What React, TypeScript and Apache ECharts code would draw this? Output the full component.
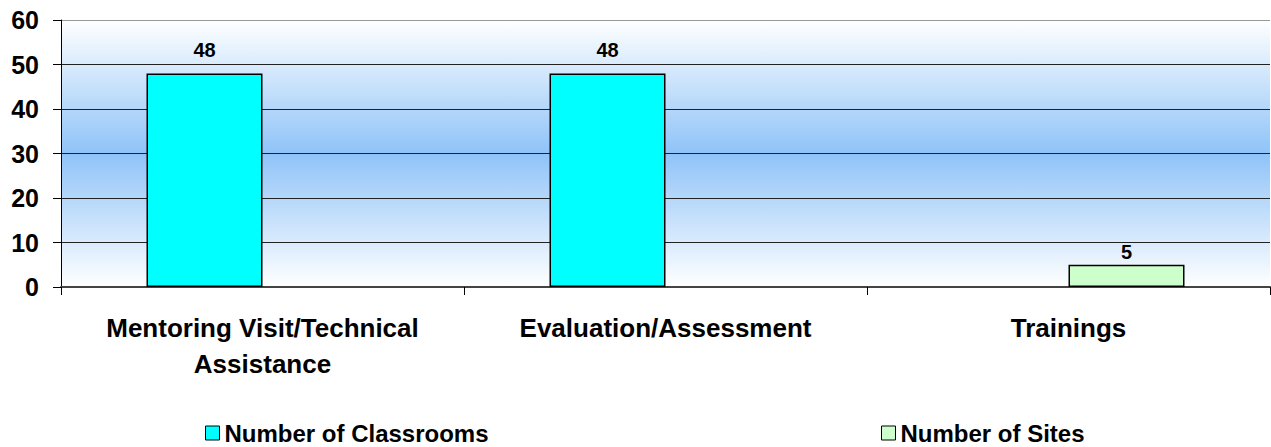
import React, { useEffect, useRef } from "react";
import * as echarts from "echarts";

const categories = ["Mentoring Visit/Technical\nAssistance", "Evaluation/Assessment", "Trainings"];
const classrooms: (number | null)[] = [48, 48, null];
const sites: (number | null)[] = [null, null, 5];
const yTicks = { min: 0, max: 60, interval: 10 };

const FONT = "Liberation Sans, Arial, sans-serif";

export default function App() {
  const ref = useRef<HTMLDivElement>(null);
  useEffect(() => {
    document.body.style.margin = "0";
    const chart = echarts.init(ref.current!, null, { renderer: "svg" });
    const legendText = { fontSize: 24, fontWeight: "bold", color: "#000", fontFamily: FONT, lineHeight: 24 };
    chart.setOption({
      animation: false,
      textStyle: { fontFamily: FONT },
      grid: {
        left: 61,
        right: 1,
        top: 20,
        bottom: 160,
        show: true,
        borderWidth: 0,
        backgroundColor: new echarts.graphic.LinearGradient(0, 0, 0, 1, [
          { offset: 0, color: "#FFFFFF" },
          { offset: 0.5, color: "#8FC3F8" },
          { offset: 1, color: "#FFFFFF" },
        ]),
      },
      legend: [
        {
          data: ["Number of Classrooms"],
          left: 205,
          top: 421,
          padding: 0,
          icon: "rect",
          itemWidth: 14,
          itemHeight: 14,
          itemStyle: { borderColor: "#000", borderWidth: 1 },
          textStyle: legendText,
        },
        {
          data: ["Number of Sites"],
          left: 881,
          top: 421,
          padding: 0,
          icon: "rect",
          itemWidth: 14,
          itemHeight: 14,
          itemStyle: { borderColor: "#000", borderWidth: 1 },
          textStyle: legendText,
        },
      ],
      xAxis: {
        type: "category",
        data: categories,
        axisLine: { lineStyle: { color: "#444", width: 2 } },
        axisTick: { show: true, length: 8, lineStyle: { color: "#000", width: 1 } },
        axisLabel: {
          fontSize: 26,
          fontWeight: "bold",
          color: "#000",
          lineHeight: 36,
          margin: 23,
          fontFamily: FONT,
          interval: 0,
        },
      },
      yAxis: {
        type: "value",
        min: yTicks.min,
        max: yTicks.max,
        interval: yTicks.interval,
        axisLine: { show: true, lineStyle: { color: "#000", width: 1 } },
        axisTick: { show: true, length: 8, lineStyle: { color: "#000" } },
        axisLabel: { fontSize: 25, fontWeight: "bold", color: "#000", margin: 22, fontFamily: FONT },
        splitLine: {
          show: true,
          lineStyle: { color: ["#444", "#222", "#222", "#222", "#222", "#222", "#999"], width: 1 },
        },
      },
      series: [
        {
          name: "Number of Classrooms",
          type: "bar",
          data: classrooms,
          barWidth: 116,
          barGap: "0%",
          itemStyle: { color: "#00FFFF", borderColor: "#000", borderWidth: 1.5 },
          label: {
            show: true,
            position: "top",
            distance: 13,
            fontSize: 20,
            fontWeight: "bold",
            color: "#000",
            fontFamily: FONT,
          },
        },
        {
          name: "Number of Sites",
          type: "bar",
          data: sites,
          barWidth: 116,
          barGap: "0%",
          itemStyle: { color: "#CCFFCC", borderColor: "#000", borderWidth: 1.5 },
          label: {
            show: true,
            position: "top",
            distance: 3,
            fontSize: 20,
            fontWeight: "bold",
            color: "#000",
            fontFamily: FONT,
          },
        },
      ],
    });
    return () => chart.dispose();
  }, []);
  return <div ref={ref} style={{ width: 1271, height: 447 }} />;
}
